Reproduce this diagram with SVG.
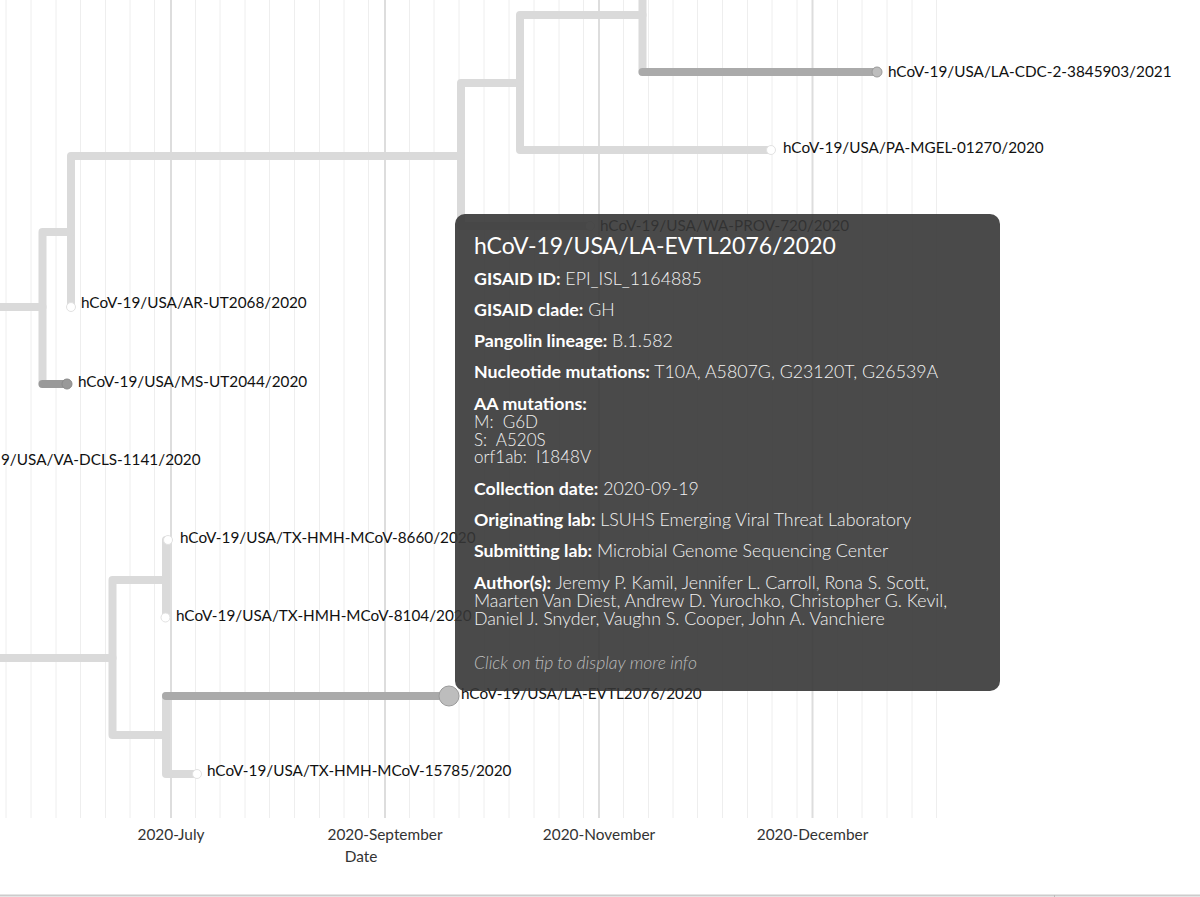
<svg xmlns="http://www.w3.org/2000/svg" width="1200" height="897" viewBox="0 0 1200 897">
<style>
.minor{stroke:#eeeeee;stroke-width:1}
.major{stroke:#dddddd;stroke-width:2}
.br{fill:none;stroke:#dadada;stroke-width:8;stroke-linejoin:round;stroke-linecap:round}
.brd{fill:none;stroke:#aaaaaa;stroke-width:8;stroke-linecap:round}
.tipw{fill:#ffffff;stroke:#e2e2e2;stroke-width:1}
.tipd{fill:#bdbdbd;stroke:#9a9a9a;stroke-width:1}
.lbl{font-family:Lato,"Liberation Sans",sans-serif;font-size:15.3px;fill:#111}
.ax{font-family:Lato,"Liberation Sans",sans-serif;font-size:15.4px;fill:#333;text-anchor:middle}
.tt{font-family:Lato,"Liberation Sans",sans-serif;font-size:17.8px;fill:#ffffff}
.tt .b{font-weight:700}
.tt .v{font-weight:300;fill:#f2f2f2}
.tt .aa{font-size:17px}
</style>
<rect width="1200" height="897" fill="#ffffff"/>
<g id="grid">
<g class="minor">
<line x1="6" y1="0" x2="6" y2="818"/><line x1="31" y1="0" x2="31" y2="818"/><line x1="56" y1="0" x2="56" y2="818"/><line x1="80.5" y1="0" x2="80.5" y2="818"/><line x1="105.5" y1="0" x2="105.5" y2="818"/><line x1="130" y1="0" x2="130" y2="818"/><line x1="154.5" y1="0" x2="154.5" y2="818"/>
<line x1="195.5" y1="0" x2="195.5" y2="818"/><line x1="220" y1="0" x2="220" y2="818"/><line x1="245" y1="0" x2="245" y2="818"/><line x1="269.5" y1="0" x2="269.5" y2="818"/><line x1="294.5" y1="0" x2="294.5" y2="818"/><line x1="319.5" y1="0" x2="319.5" y2="818"/><line x1="344" y1="0" x2="344" y2="818"/><line x1="368.5" y1="0" x2="368.5" y2="818"/>
<line x1="409.5" y1="0" x2="409.5" y2="818"/><line x1="434" y1="0" x2="434" y2="818"/><line x1="459" y1="0" x2="459" y2="818"/><line x1="484" y1="0" x2="484" y2="818"/><line x1="509" y1="0" x2="509" y2="818"/><line x1="534" y1="0" x2="534" y2="818"/><line x1="559" y1="0" x2="559" y2="818"/><line x1="583.5" y1="0" x2="583.5" y2="818"/>
<line x1="623.5" y1="0" x2="623.5" y2="818"/><line x1="648.5" y1="0" x2="648.5" y2="818"/><line x1="673" y1="0" x2="673" y2="818"/><line x1="697.5" y1="0" x2="697.5" y2="818"/><line x1="722.5" y1="0" x2="722.5" y2="818"/><line x1="747.5" y1="0" x2="747.5" y2="818"/><line x1="772" y1="0" x2="772" y2="818"/><line x1="797" y1="0" x2="797" y2="818"/>
<line x1="837.5" y1="0" x2="837.5" y2="818"/><line x1="862" y1="0" x2="862" y2="818"/><line x1="887" y1="0" x2="887" y2="818"/><line x1="912" y1="0" x2="912" y2="818"/><line x1="936.5" y1="0" x2="936.5" y2="818"/>
</g>
<g class="major">
<line x1="171" y1="0" x2="171" y2="818"/><line x1="385" y1="0" x2="385" y2="818"/><line x1="599" y1="0" x2="599" y2="818"/><line x1="812.5" y1="0" x2="812.5" y2="818"/>
</g>
</g>
<g id="connectors">
<path class="br" d="M642.5,-10 V72"/>
<path class="br" d="M642.5,15 H520 V150 H771"/>
<path class="br" d="M520,83 H461 V226 H590"/>
<path class="br" d="M461,156 H71 V307"/>
<path class="br" d="M71,232 H42.5 V384"/>
<path class="br" d="M-10,307 H42.5"/>
<path class="br" d="M-10,658 H112.5 V580 H166 V540"/>
<path class="br" d="M166,580 V617"/>
<path class="br" d="M112.5,658 V735 H166 V774 H197"/>
<path class="br" d="M166,735 V696"/>
<path class="brd" d="M642.5,72 H877"/>
<path class="brd" style="stroke:#999" d="M42.5,384 H67"/>
<path class="brd" d="M166,696 H449"/>
</g>
<g id="tip-la-cdc">
<circle class="tipd" cx="877" cy="72" r="5"/>
<text class="lbl" x="888" y="77">hCoV-19/USA/LA-CDC-2-3845903/2021</text>
</g>
<g id="tip-pa-mgel">
<circle class="tipw" cx="771" cy="150" r="4.5"/>
<text class="lbl" x="783" y="153">hCoV-19/USA/PA-MGEL-01270/2020</text>
</g>
<g id="tip-wa-prov">
<circle class="tipw" cx="590" cy="226" r="4.5"/>
<text class="lbl" x="600" y="231">hCoV-19/USA/WA-PROV-720/2020</text>
</g>
<g id="tip-ar-ut2068">
<circle class="tipw" cx="71" cy="307" r="4.5"/>
<text class="lbl" x="81" y="308">hCoV-19/USA/AR-UT2068/2020</text>
</g>
<g id="tip-ms-ut2044">
<circle class="tipd" style="fill:#999;stroke:#8a8a8a" cx="67" cy="384" r="5"/>
<text class="lbl" x="78" y="387">hCoV-19/USA/MS-UT2044/2020</text>
</g>
<g id="tip-va-dcls">
<text class="lbl" x="1" y="465">9/USA/VA-DCLS-1141/2020</text>
</g>
<g id="tip-tx-8660">
<circle class="tipw" cx="168" cy="540" r="4.5"/>
<text class="lbl" x="180" y="543">hCoV-19/USA/TX-HMH-MCoV-8660/2020</text>
</g>
<g id="tip-tx-8104">
<circle class="tipw" cx="165.5" cy="617.5" r="4.5"/>
<text class="lbl" x="176" y="621">hCoV-19/USA/TX-HMH-MCoV-8104/2020</text>
</g>
<g id="tip-la-evtl">
<circle class="tipd" cx="449" cy="696" r="10"/>
<text class="lbl" x="461" y="699">hCoV-19/USA/LA-EVTL2076/2020</text>
</g>
<g id="tip-tx-15785">
<circle class="tipw" cx="197" cy="774" r="4.5"/>
<text class="lbl" x="207" y="776">hCoV-19/USA/TX-HMH-MCoV-15785/2020</text>
</g>
<g id="axis">
<text class="ax" x="171" y="840">2020-July</text>
<text class="ax" x="385" y="840">2020-September</text>
<text class="ax" x="599" y="840">2020-November</text>
<text class="ax" x="812.5" y="840">2020-December</text>
<text class="ax" x="361" y="862">Date</text>
<line x1="0" y1="895.5" x2="1200" y2="895.5" stroke="#cccccc" stroke-width="2"/>
<line x1="1054.5" y1="895" x2="1054.5" y2="897" stroke="#bbbbbb" stroke-width="1"/>
</g>
<g id="tooltip">
<rect x="455" y="214" width="545" height="477" rx="10" fill="#363636" fill-opacity="0.9"/>
<g class="tt">
<text x="474" y="254" style="font-size:23px">hCoV-19/USA/LA-EVTL2076/2020</text>
<text x="474" y="285"><tspan class="b">GISAID ID:</tspan><tspan class="v"> EPI_ISL_1164885</tspan></text>
<text x="474" y="316"><tspan class="b">GISAID clade:</tspan><tspan class="v"> GH</tspan></text>
<text x="474" y="347"><tspan class="b">Pangolin lineage:</tspan><tspan class="v"> B.1.582</tspan></text>
<text x="474" y="378"><tspan class="b">Nucleotide mutations:</tspan><tspan class="v"> T10A, A5807G, G23120T, G26539A</tspan></text>
<text x="474" y="410" class="b">AA mutations:</text>
<text x="474" y="428" class="v aa" xml:space="preserve">M:  G6D</text>
<text x="474" y="445.5" class="v aa" xml:space="preserve">S:  A520S</text>
<text x="474" y="463" class="v aa" xml:space="preserve">orf1ab:  I1848V</text>
<text x="474" y="495"><tspan class="b">Collection date:</tspan><tspan class="v"> 2020-09-19</tspan></text>
<text x="474" y="526"><tspan class="b">Originating lab:</tspan><tspan class="v"> LSUHS Emerging Viral Threat Laboratory</tspan></text>
<text x="474" y="557"><tspan class="b">Submitting lab:</tspan><tspan class="v"> Microbial Genome Sequencing Center</tspan></text>
<text x="474" y="589"><tspan class="b">Author(s):</tspan><tspan class="v"> Jeremy P. Kamil, Jennifer L. Carroll, Rona S. Scott,</tspan></text>
<text x="474" y="607" class="v">Maarten Van Diest, Andrew D. Yurochko, Christopher G. Kevil,</text>
<text x="474" y="625" class="v">Daniel J. Snyder, Vaughn S. Cooper, John A. Vanchiere</text>
<text x="474" y="669" class="v" style="font-style:italic;fill:#bbbbbb;font-size:17.5px">Click on tip to display more info</text>
</g>
</g>
</svg>
